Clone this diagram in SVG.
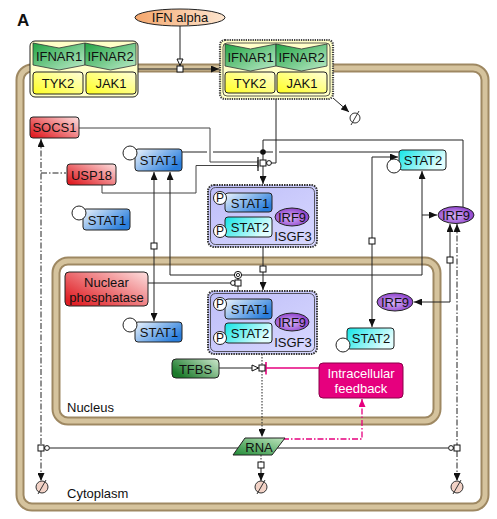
<svg xmlns="http://www.w3.org/2000/svg" width="497" height="519" viewBox="0 0 497 519">
<defs>
<linearGradient id="gStat1" x1="0" y1="0" x2="1" y2="0.6"><stop offset="0" stop-color="#eef5fd"/><stop offset="1" stop-color="#2a7edc"/></linearGradient>
<linearGradient id="gStat2" x1="0" y1="0" x2="1" y2="0.4"><stop offset="0" stop-color="#12e4e6"/><stop offset="1" stop-color="#e2fefe"/></linearGradient>
<radialGradient id="gIrf9" cx="0.45" cy="0.55" r="0.6"><stop offset="0" stop-color="#d8b4f8"/><stop offset="1" stop-color="#8838c8"/></radialGradient>
<linearGradient id="gRed" x1="0" y1="0.8" x2="1" y2="0"><stop offset="0" stop-color="#e01e24"/><stop offset="1" stop-color="#fde0e0"/></linearGradient>
<linearGradient id="gTfbs" x1="0" y1="0.6" x2="1" y2="0"><stop offset="0" stop-color="#1a7a2a"/><stop offset="1" stop-color="#cfe9cf"/></linearGradient>
<linearGradient id="gRna" x1="0" y1="1" x2="1" y2="0"><stop offset="0" stop-color="#1f8a35"/><stop offset="1" stop-color="#bde4bd"/></linearGradient>
<linearGradient id="gIfnar" x1="0" y1="0" x2="1" y2="1"><stop offset="0" stop-color="#22a444"/><stop offset="1" stop-color="#bfeccb"/></linearGradient>
<linearGradient id="gYel" x1="0" y1="1" x2="1" y2="0"><stop offset="0" stop-color="#ffff22"/><stop offset="1" stop-color="#ffffd8"/></linearGradient>
<linearGradient id="gIfn" x1="0" y1="0" x2="1" y2="0"><stop offset="0" stop-color="#f4a66c"/><stop offset="1" stop-color="#fde6d0"/></linearGradient>
<linearGradient id="gCx" x1="0" y1="0" x2="1" y2="1"><stop offset="0" stop-color="#bdbdf8"/><stop offset="1" stop-color="#d8d8ff"/></linearGradient>
<marker id="arr" viewBox="0 0 8 7" markerWidth="8" markerHeight="7" refX="8" refY="3.5" markerUnits="userSpaceOnUse" orient="auto-start-reverse"><path d="M0,0 L8,3.5 L0,7 z" fill="#111"/></marker>
<marker id="arrM" viewBox="0 0 8 7" markerWidth="8" markerHeight="7" refX="8" refY="3.5" markerUnits="userSpaceOnUse" orient="auto"><path d="M0,0 L8,3.5 L0,7 z" fill="#e6007e"/></marker>
<marker id="stim" viewBox="0 0 8 8" markerWidth="8" markerHeight="8" refX="7.5" refY="4" markerUnits="userSpaceOnUse" orient="auto"><path d="M1,1 L7.5,4 L1,7 z" fill="#fff" stroke="#111" stroke-width="1"/></marker>
<marker id="cat" viewBox="0 0 7 7" markerWidth="7" markerHeight="7" refX="3.5" refY="3.5" markerUnits="userSpaceOnUse" orient="auto"><circle cx="3.5" cy="3.5" r="2.4" fill="#fff" stroke="#111" stroke-width="1"/></marker>
<marker id="bar" viewBox="0 0 3 11" markerWidth="3" markerHeight="11" refX="1.5" refY="5.5" markerUnits="userSpaceOnUse" orient="auto"><line x1="1.5" y1="0" x2="1.5" y2="11" stroke="#333" stroke-width="1.4"/></marker>
<marker id="barM" viewBox="0 0 3 13" markerWidth="3" markerHeight="13" refX="1.5" refY="6.5" markerUnits="userSpaceOnUse" orient="auto"><line x1="1.5" y1="0" x2="1.5" y2="13" stroke="#e6007e" stroke-width="1.6"/></marker>
</defs>
<style>
text{font-family:"Liberation Sans",Arial,sans-serif;font-size:13px;fill:#111;text-anchor:middle}
.mem1{fill:none;stroke:#9e8862;stroke-width:9}
.mem2{fill:none;stroke:#d5c39d;stroke-width:5}
.box{stroke:#222;stroke-width:1}
.c{fill:none;stroke:#222;stroke-width:1}
.dd{stroke-dasharray:6,2,1.5,2}
.dot{stroke-dasharray:1.5,1.5}
.proc{fill:#fff;stroke:#111;stroke-width:1}
.st{fill:#fff;stroke:#222;stroke-width:1}
.deg{fill:#f2d2c6;stroke:#333;stroke-width:1}
.cx{fill:url(#gCx);stroke:#333;stroke-width:2;stroke-dasharray:1.5,1}
.cxi{fill:none;stroke:#333;stroke-width:0.8}
.p{font-size:12px}
</style>

<text x="17" y="26" style="font-size:17px;font-weight:bold;text-anchor:start">A</text>

<g id="cell">
<rect class="mem1" x="20" y="68" width="465" height="439" rx="12"/>
<rect class="mem2" x="20" y="68" width="465" height="439" rx="12"/>
<text x="67" y="498" style="text-anchor:start">Cytoplasm</text>
</g>
<g id="nucleus">
<rect class="mem1" x="56" y="261" width="381" height="160" rx="12"/>
<rect class="mem2" x="56" y="261" width="381" height="160" rx="12"/>
<text x="67" y="412" style="text-anchor:start">Nucleus</text>
</g>

<g id="connectors">
<line class="c" x1="138" y1="69" x2="219" y2="69" marker-end="url(#arr)"/>
<line class="c" x1="180" y1="26" x2="180" y2="65.5" marker-end="url(#stim)"/>
<rect class="proc" x="177" y="66" width="6" height="6"/>
<line class="c" x1="333" y1="98" x2="349" y2="112" marker-end="url(#arr)"/>
<path class="c" d="M79,128 H210 V162 H258" marker-end="url(#bar)" style="stroke:#444"/>
<path class="c" d="M102,185 V193 H196 V165.5 H258" marker-end="url(#bar)" style="stroke:#444"/>
<path class="c" d="M182,152 H207 M213,152 H263"/>
<path class="c" d="M263,152 H273 M279,152 H399"/>
<path class="c" d="M463,207 V140 H263 V160"/>
<circle cx="263" cy="152" r="2.8" fill="#111"/>
<path class="c" d="M276,99 V163 H269" marker-end="url(#cat)"/>
<line class="c" x1="263" y1="166" x2="263" y2="184" marker-end="url(#arr)"/>
<rect class="proc" x="260" y="160" width="6" height="6"/>
<line class="c" x1="263" y1="247" x2="263" y2="266"/>
<line class="c" x1="263" y1="272" x2="263" y2="290" marker-end="url(#arr)"/>
<rect class="proc" x="260" y="266" width="6" height="6"/>
<line class="c" x1="154" y1="172" x2="154" y2="243" marker-start="url(#arr)"/>
<line class="c" x1="154" y1="249" x2="154" y2="321" marker-end="url(#arr)"/>
<rect class="proc" x="151" y="243" width="6" height="6"/>
<path class="c" d="M170,172 V275 H422 V171" marker-start="url(#arr)" marker-end="url(#arr)"/>
<line class="c" x1="422" y1="215" x2="437" y2="215" marker-end="url(#arr)"/>
<line class="c" x1="238" y1="278" x2="238" y2="291"/>
<circle cx="238" cy="275" r="3.6" fill="#fff" stroke="#111"/>
<circle cx="238" cy="275" r="1.6" fill="none" stroke="#111" stroke-width="0.9"/>
<path class="c" d="M148,283 H233" marker-end="url(#cat)"/>
<rect class="proc" x="235" y="280" width="6" height="6"/>
<path class="c" d="M398,157 H372 V238" marker-start="url(#arr)"/>
<line class="c" x1="372" y1="244" x2="372" y2="327" marker-end="url(#arr)"/>
<rect class="proc" x="369" y="238" width="6" height="6"/>
<line class="c" x1="450" y1="224" x2="450" y2="257" marker-start="url(#arr)"/>
<path class="c" d="M450,263 V302 H414" marker-end="url(#arr)"/>
<rect class="proc" x="447" y="257" width="6" height="6"/>
<line class="c dd" x1="457" y1="224" x2="457" y2="445" marker-start="url(#arr)"/>
<line class="c dd" x1="457" y1="451" x2="457" y2="481" marker-end="url(#arr)"/>
<line class="c dd" x1="41" y1="139" x2="41" y2="445" marker-start="url(#arr)"/>
<line class="c dd" x1="41" y1="451" x2="41" y2="481" marker-end="url(#arr)"/>
<line class="c dd" x1="41" y1="173" x2="66" y2="173"/>
<path class="c" d="M50,448 H448"/>
<circle cx="47" cy="448" r="2.4" fill="#fff" stroke="#111"/>
<circle cx="451" cy="448" r="2.4" fill="#fff" stroke="#111"/>
<rect class="proc" x="454" y="445" width="6" height="6"/>
<rect class="proc" x="38" y="445" width="6" height="6"/>
<line class="c dot" x1="262" y1="354" x2="262" y2="365"/>
<line class="c dot" x1="262" y1="371" x2="262" y2="437" marker-end="url(#arr)"/>
<line class="c" x1="219" y1="368" x2="258.5" y2="368" marker-end="url(#stim)"/>
<line x1="319" y1="368" x2="266" y2="368" stroke="#e6007e" stroke-width="1.3" marker-end="url(#barM)"/>
<rect class="proc" x="259" y="365" width="6" height="6"/>
<path d="M283,439 H362 V399" fill="none" stroke="#e6007e" stroke-width="1.3" stroke-dasharray="6,2,1.5,2" marker-end="url(#arrM)"/>
<line class="c dot" x1="261" y1="455" x2="261" y2="462"/>
<line class="c" x1="261" y1="468" x2="261" y2="481" marker-end="url(#arr)"/>
<rect class="proc" x="258" y="462" width="6" height="6"/>
</g>

<g id="sinks">
<g><circle cx="355" cy="118" r="5" fill="none" stroke="#333"/><line x1="351" y1="125" x2="359" y2="111" stroke="#333"/></g>
<g><circle class="deg" cx="42" cy="487" r="6"/><line x1="38" y1="494" x2="46" y2="480" stroke="#333"/></g>
<g><circle class="deg" cx="261" cy="487" r="6"/><line x1="257" y1="494" x2="265" y2="480" stroke="#333"/></g>
<g><circle class="deg" cx="457" cy="487" r="6"/><line x1="453" y1="494" x2="461" y2="480" stroke="#333"/></g>
</g>

<g id="ifn_alpha">
<ellipse cx="180" cy="17.5" rx="45" ry="8.5" fill="url(#gIfn)" stroke="#222"/>
<text x="180" y="22">IFN alpha</text>
</g>

<g id="receptor_inactive">
<rect x="30" y="41" width="108" height="56" rx="5" fill="#ffffc8" stroke="#222"/>
<polygon points="33,43 59,48 85,43 85,65 59,70 33,65" fill="url(#gIfnar)" stroke="#333" stroke-width="0.8"/>
<text x="59" y="61">IFNAR1</text>
<polygon points="85,43 110.5,48 136,43 136,65 110.5,70 85,65" fill="url(#gIfnar)" stroke="#333" stroke-width="0.8"/>
<text x="110.5" y="61">IFNAR2</text>
<rect class="box" x="33" y="72" width="50" height="22" rx="3" fill="url(#gYel)"/>
<text x="58" y="88">TYK2</text>
<rect class="box" x="86" y="72" width="50" height="22" rx="3" fill="url(#gYel)"/>
<text x="111" y="88">JAK1</text>
</g>

<g id="receptor_active">
<rect x="220" y="40" width="113" height="59" rx="5" fill="#ffffc8" stroke="#444" stroke-width="2.2" stroke-dasharray="1.3,1"/>
<rect x="223" y="43" width="107" height="53" rx="4" fill="none" stroke="#333" stroke-width="0.8"/>
<polygon points="225,44 250.5,49 276,44 276,66 250.5,71 225,66" fill="url(#gIfnar)" stroke="#333" stroke-width="0.8"/>
<text x="250.5" y="62">IFNAR1</text>
<polygon points="276,44 301.5,49 327,44 327,66 301.5,71 276,66" fill="url(#gIfnar)" stroke="#333" stroke-width="0.8"/>
<text x="301.5" y="62">IFNAR2</text>
<rect class="box" x="225" y="72" width="50" height="21" rx="3" fill="url(#gYel)"/>
<text x="250" y="87.5">TYK2</text>
<rect class="box" x="277" y="72" width="50" height="21" rx="3" fill="url(#gYel)"/>
<text x="302" y="87.5">JAK1</text>
</g>

<g id="socs1">
<rect class="box" x="30" y="117" width="49" height="21" rx="3" fill="url(#gRed)"/>
<text x="54.5" y="132">SOCS1</text>
</g>
<g id="usp18">
<rect class="box" x="67" y="164" width="49" height="21" rx="3" fill="url(#gRed)"/>
<text x="91.5" y="179.5">USP18</text>
</g>

<g id="stat1_cyto">
<rect class="box" x="135" y="149" width="47" height="22" rx="3" fill="url(#gStat1)"/>
<circle class="st" cx="130" cy="153" r="7"/>
<text x="159" y="165">STAT1</text>
</g>
<g id="stat1_free">
<rect class="box" x="83" y="209" width="47" height="21" rx="3" fill="url(#gStat1)"/>
<circle class="st" cx="79" cy="213" r="7"/>
<text x="107" y="225">STAT1</text>
</g>
<g id="stat2_cyto">
<rect class="box" x="399" y="150" width="47" height="20" rx="3" fill="url(#gStat2)"/>
<circle class="st" cx="394" cy="166" r="7"/>
<text x="423" y="165">STAT2</text>
</g>
<g id="irf9_cyto">
<ellipse cx="456" cy="215" rx="18" ry="8.5" fill="url(#gIrf9)" stroke="#222"/>
<text x="456" y="220">IRF9</text>
</g>

<g id="isgf3_cyto">
<rect class="cx" x="208" y="185" width="109" height="62" rx="6"/>
<rect class="cxi" x="210.5" y="187.5" width="104" height="57" rx="5"/>
<rect class="box" x="225" y="193" width="47" height="19" rx="3" fill="url(#gStat1)"/>
<text x="250" y="207.5">STAT1</text>
<circle class="st" cx="220" cy="198" r="6.5"/>
<text class="p" x="220" y="202.3">P</text>
<rect class="box" x="225" y="217" width="47" height="20" rx="3" fill="url(#gStat2)"/>
<text x="250" y="232">STAT2</text>
<circle class="st" cx="220" cy="231" r="6.5"/>
<text class="p" x="220" y="235.3">P</text>
<ellipse cx="292" cy="217" rx="17" ry="9" fill="url(#gIrf9)" stroke="#222"/>
<text x="292" y="222">IRF9</text>
<text x="293" y="241">ISGF3</text>
</g>

<g id="nuclear_phosphatase">
<rect class="box" x="65" y="272" width="83" height="34" rx="4" fill="url(#gRed)"/>
<text x="106.5" y="287">Nuclear</text>
<text x="106.5" y="302">phosphatase</text>
</g>

<g id="isgf3_nuc">
<rect class="cx" x="208" y="291" width="109" height="63" rx="6"/>
<rect class="cxi" x="210.5" y="293.5" width="104" height="58" rx="5"/>
<rect class="box" x="225" y="299" width="47" height="20" rx="3" fill="url(#gStat1)"/>
<text x="250" y="314">STAT1</text>
<circle class="st" cx="220" cy="304" r="6.5"/>
<text class="p" x="220" y="308.3">P</text>
<rect class="box" x="225" y="323" width="47" height="20" rx="3" fill="url(#gStat2)"/>
<text x="250" y="338">STAT2</text>
<circle class="st" cx="220" cy="338" r="6.5"/>
<text class="p" x="220" y="342.3">P</text>
<ellipse cx="292" cy="322" rx="17" ry="9" fill="url(#gIrf9)" stroke="#222"/>
<text x="292" y="327">IRF9</text>
<text x="293" y="347">ISGF3</text>
</g>

<g id="stat1_nuc">
<rect class="box" x="135" y="322" width="47" height="20" rx="3" fill="url(#gStat1)"/>
<circle class="st" cx="130" cy="325" r="7"/>
<text x="159" y="337">STAT1</text>
</g>
<g id="stat2_nuc">
<rect class="box" x="347" y="328" width="47" height="21" rx="3" fill="url(#gStat2)"/>
<circle class="st" cx="343" cy="345" r="7"/>
<text x="371" y="343">STAT2</text>
</g>
<g id="irf9_nuc">
<ellipse cx="395" cy="302" rx="18" ry="9" fill="url(#gIrf9)" stroke="#222"/>
<text x="395" y="307">IRF9</text>
</g>

<g id="tfbs">
<rect class="box" x="172" y="359" width="47" height="19" rx="4" fill="url(#gTfbs)"/>
<text x="195.5" y="373.5">TFBS</text>
</g>

<g id="feedback">
<rect x="319" y="363" width="84" height="35" rx="4" fill="#e6007e" stroke="#8a0048"/>
<text x="361" y="378" style="fill:#fff">Intracellular</text>
<text x="361" y="393" style="fill:#fff">feedback</text>
</g>

<g id="rna">
<polygon points="245,438 285,438 272,455 233,455" fill="url(#gRna)" stroke="#222"/>
<text x="259" y="451.5">RNA</text>
</g>
</svg>
